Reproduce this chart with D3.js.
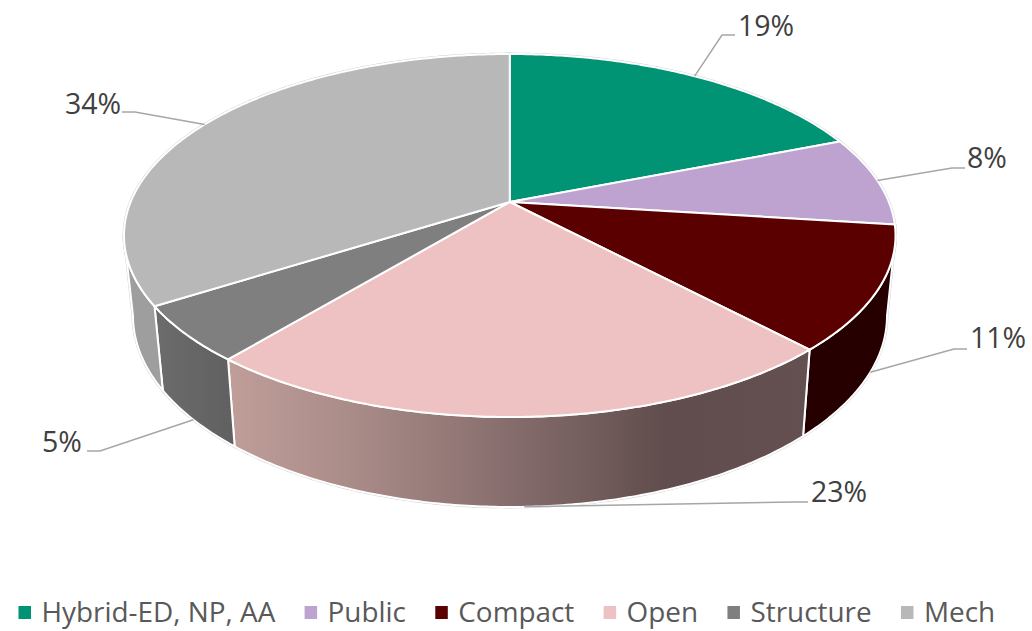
<!DOCTYPE html>
<html>
<head>
<meta charset="utf-8">
<script src="https://cdn.jsdelivr.net/npm/d3@7"></script>
<style>
  html, body { margin: 0; padding: 0; background: #fff; }
  svg { display: block; }
  text { font-family: "Open Sans", "Noto Sans", sans-serif; }
</style>
</head>
<body>
<div id="chart"></div>
<script>
// chart data
var categories = ["Hybrid-ED, NP, AA", "Public", "Compact", "Open", "Structure", "Mech"];
var shares = [19, 8, 11, 23, 5, 34];
var topColors = ["#009474", "#bea3d0", "#5a0000", "#eec2c2", "#7f7f7f", "#b8b8b8"];

var width = 1032, height = 631;

var svg = d3.select("#chart").append("svg")
  .attr("width", width)
  .attr("height", height);

// the top and the bottom rim are two ellipses, the bottom one a bit narrower
var xTop = d3.scaleLinear().domain([-1, 1]).range([124, 895.5]);
var yTop = d3.scaleLinear().domain([-1, 1]).range([54, 417]);
var xBottom = d3.scaleLinear().domain([-1, 1]).range([133, 887]);
var yBottom = d3.scaleLinear().domain([-1, 1]).range([125, 507]);

// perspective shift, the centre of the pie sits above the centre of the ellipse
var shift = -0.1846;

function disc(a) {
  var u = Math.sin(a), v = -Math.cos(a);
  var d = 1 + shift * v;
  return [u * Math.sqrt(1 - shift * shift) / d, (v + shift) / d];
}
function onTop(a) { var p = disc(a); return [xTop(p[0]), yTop(p[1])]; }
function onBottom(a) { var p = disc(a); return [xBottom(p[0]), yBottom(p[1])]; }

var pie = d3.pie().sort(null).value(function(d) { return d; });
var arcs = pie(shares);
var line = d3.line();

function sweep(a0, a1) {
  var n = Math.max(2, Math.ceil((a1 - a0) / 0.01));
  return d3.range(n + 1).map(function(i) { return a0 + (a1 - a0) * i / n; });
}

function topPath(d) {
  var pts = [[xTop(0), yTop(shift)]];
  return line(pts.concat(sweep(d.startAngle, d.endAngle).map(onTop))) + "Z";
}

// side wall, only the part that faces us: between the two widest points of the rim
var sideFrom = Math.acos(shift), sideTo = 2 * Math.PI - sideFrom;
function sidePath(d) {
  var a0 = Math.max(d.startAngle, sideFrom), a1 = Math.min(d.endAngle, sideTo);
  if (a1 <= a0) return null;
  var s = sweep(a0, a1);
  return line(s.map(onTop).concat(s.slice().reverse().map(onBottom))) + "Z";
}

var defs = svg.append("defs");
var openGrad = defs.append("linearGradient")
  .attr("id", "openSide")
  .attr("gradientUnits", "userSpaceOnUse")
  .attr("x1", 228).attr("x2", 810).attr("y1", 0).attr("y2", 0);
[[0, "#c09e9a"], [0.25, "#a58885"], [0.5, "#846b6b"], [0.75, "#614d4d"], [1, "#645050"]].forEach(function(s) {
  openGrad.append("stop").attr("offset", s[0]).attr("stop-color", s[1]);
});
var structGrad = defs.append("linearGradient")
  .attr("id", "structSide")
  .attr("gradientUnits", "userSpaceOnUse")
  .attr("x1", 155).attr("x2", 234).attr("y1", 0).attr("y2", 0);
structGrad.append("stop").attr("offset", 0).attr("stop-color", "#6c6c6c");
structGrad.append("stop").attr("offset", 1).attr("stop-color", "#606060");

var sideFills = [null, null, "#260000", "url(#openSide)", "url(#structSide)", "#9e9e9e"];

// thin grey edge round the whole solid
var rim = svg.append("g").attr("fill", "none").attr("stroke", "#cfcfcf").attr("stroke-width", 2.8);
rim.selectAll("path.side").data(arcs).enter().append("path")
  .attr("class", "side")
  .attr("d", sidePath);
rim.selectAll("path.face").data(arcs).enter().append("path")
  .attr("class", "face")
  .attr("d", topPath);

svg.append("g").selectAll("path").data(arcs).enter().append("path")
  .attr("d", sidePath)
  .attr("fill", function(d, i) { return sideFills[i] || "none"; })
  .attr("stroke", "#fff")
  .attr("stroke-width", 2)
  .attr("stroke-linejoin", "round");

svg.append("g").selectAll("path").data(arcs).enter().append("path")
  .attr("d", topPath)
  .attr("fill", function(d, i) { return topColors[i]; })
  .attr("stroke", "#fff")
  .attr("stroke-width", 2)
  .attr("stroke-linejoin", "round");

// data labels with their leader lines
var labelBoxes = [
  { elbow: [722, 35], end: [735, 35], x: 738, y: 36 },
  { elbow: [952, 168], end: [965, 168], x: 967, y: 168 },
  { elbow: [954, 349], end: [967, 349], x: 970, y: 348 },
  { elbow: [795, 502], end: [808, 502], x: 811, y: 502 },
  { elbow: [100, 451], end: [87, 451], x: 42, y: 452 },
  { elbow: [135, 112], end: [122, 112], x: 65, y: 114 }
];

function anchor(d) {
  var mid = (d.startAngle + d.endAngle) / 2;
  return Math.cos(mid) < 0 ? onBottom(mid) : onTop(mid);
}

var labels = svg.append("g");
labels.selectAll("path").data(arcs).enter().append("path")
  .attr("d", function(d, i) {
    return line([anchor(d), labelBoxes[i].elbow, labelBoxes[i].end]);
  })
  .attr("fill", "none")
  .attr("stroke", "#a6a6a6")
  .attr("stroke-width", 1.5);
labels.selectAll("text").data(arcs).enter().append("text")
  .attr("x", function(d, i) { return labelBoxes[i].x; })
  .attr("y", function(d, i) { return labelBoxes[i].y; })
  .attr("font-size", 28.5)
  .attr("fill", "#404040")
  .text(function(d) { return d.data + "%"; });

// legend, laid out from the measured text widths
var legend = svg.append("g");
var cursor = 18.5;
categories.forEach(function(name, i) {
  legend.append("rect")
    .attr("x", cursor).attr("y", 606)
    .attr("width", 12.5).attr("height", 13)
    .attr("fill", topColors[i]);
  var t = legend.append("text")
    .attr("x", cursor + 23).attr("y", 622)
    .attr("font-size", 27.9)
    .attr("fill", "#595959")
    .text(name);
  cursor += 23 + t.node().getComputedTextLength() + 29.3;
});
</script>
</body>
</html>
